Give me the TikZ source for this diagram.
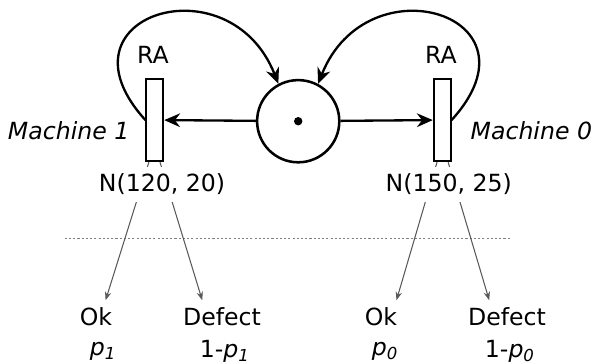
\documentclass[tikz,border=0pt]{standalone}
\usepackage{fontspec}
\setmainfont{DejaVu Sans}
\usetikzlibrary{arrows.meta}

\begin{document}
\begin{tikzpicture}[>={Stealth[length=7.5pt,width=6.5pt]},
		font=\fontsize{11.2}{13.4}\selectfont,
		place/.style={draw,circle,line width=1.2pt,minimum size=1.37cm,inner sep=0pt},
		trans/.style={draw,rectangle,line width=1pt,minimum width=0.28cm,minimum height=1.37cm,inner sep=0pt},
		arc/.style={line width=1.1pt,arrows=->},
		branch/.style={gray!70!black,line width=0.5pt,arrows={-Stealth[length=4pt,width=3pt]}}]
			\useasboundingbox (0,0) rectangle (10,-6.05);
			
			\node[place] (p) at (4.97,-2.02) {};
			\fill (p.center) circle (0.07);
			
			\node[trans] (t1) at (2.58,-2.0) {};
			\node[trans] (t0) at (7.37,-2.0) {};
			\node (ra1) at (2.55,-0.92) {RA};
			\node (ra0) at (7.35,-0.92) {RA};
			\node[anchor=east] (m1) at (2.28,-2.17) {\itshape Machine 1};
			\node[anchor=west] (m0) at (7.72,-2.17) {\itshape Machine 0};
			
			\draw[arc] (p) -- (t1);
			\draw[arc] (p) -- (t0);
			\draw[arc] (t1.west) .. controls (0.83,-0.25) and (3.83,0.67) .. (p.118);
			\draw[arc] (t0.east) .. controls (9.12,-0.25) and (6.12,0.67) .. (p.62);
			
			\draw[gray,line width=0.4pt,dash pattern=on 1pt off 1pt] (1.08,-3.97) -- (8.53,-3.97);
			
			\node (ok1) at (1.6,-5.28) {Ok};
			\node (pr1) at (1.72,-5.85) {\textit{p\textsubscript{1}}};
			\node (def1) at (3.7,-5.28) {Defect};
			\node (qr1) at (3.75,-5.85) {1-\textit{p\textsubscript{1}}};
			\node (ok0) at (6.35,-5.28) {Ok};
			\node (pr0) at (6.42,-5.85) {\textit{p\textsubscript{0}}};
			\node (def0) at (8.45,-5.28) {Defect};
			\node (qr0) at (8.5,-5.85) {1-\textit{p\textsubscript{0}}};
			
			\draw[branch] (t1.262) -- (ok1.60);
			\draw[branch] (t1.277) -- (def1.140);
			\draw[branch] (t0.263) -- (ok0.47);
			\draw[branch] (t0.278) -- (def0.137);
			
			\node[fill=white] (n1) at (2.7,-3.07) {N(120, 20)};
			\node[fill=white] (n0) at (7.48,-3.07) {N(150, 25)};
			
		\end{tikzpicture}
\end{document}
